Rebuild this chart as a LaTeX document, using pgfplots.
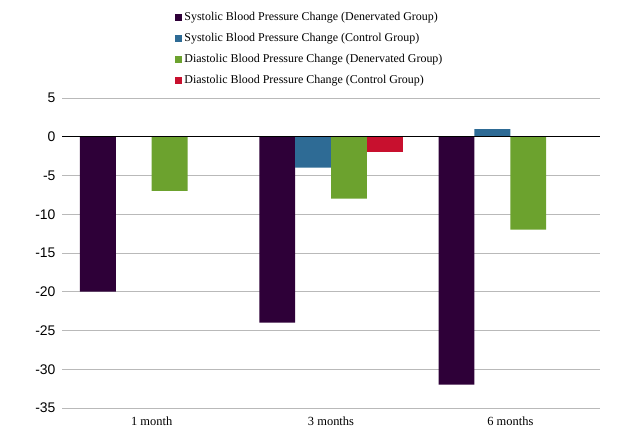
\documentclass[border=0pt]{standalone}
\usepackage{fontspec}
\setmainfont{Liberation Serif}
\newfontfamily\ticksans{Liberation Sans}
\usepackage{pgfplots}
\pgfplotsset{compat=1.18}

\definecolor{sysden}{HTML}{2E0038}
\definecolor{sysctl}{HTML}{2E6B95}
\definecolor{diaden}{HTML}{6CA22E}
\definecolor{diactl}{HTML}{C8102E}

\begin{document}
\begin{tikzpicture}
\path[use as bounding box] (0,0) rectangle (624bp,446bp);
\begin{axis}[
    at={(62bp,38bp)}, anchor=south west,
    scale only axis,
    width=538bp, height=310bp,
    ymin=-35, ymax=5,
    ytick={-35,-30,...,5},
    xmin=-0.5, xmax=2.5,
    xtick={0,1,2},
    xticklabels={1 month, 3 months, 6 months},
    axis line style={draw=none},
    tick style={draw=none},
    ymajorgrids=true,
    grid style={gray!55, line width=0.8pt},
    yticklabel style={font=\ticksans\fontsize{14}{14}\selectfont, xshift=-3bp},
    xticklabel style={font=\fontsize{12.5}{13}\selectfont, yshift=-1bp},
    /pgf/number format/assume math mode=true,
    ybar=0pt, bar width=0.2,
    legend style={at={(0.205,1.29)}, anchor=north west, draw=none,
        font=\fontsize{12}{12}\selectfont, row sep=7.3bp,
        legend cell align=left},
    legend image code/.code={\fill[#1] (0bp,-3.5bp) rectangle (7bp,3.5bp);},
]
\addplot[fill=sysden, draw=none, bar shift=-0.3] coordinates {(0,-20) (1,-24) (2,-32)};
\addlegendentry{Systolic Blood Pressure Change (Denervated Group)}
\addplot[fill=sysctl, draw=none, bar shift=-0.1] coordinates {(1,-4) (2,1)};
\addlegendentry{Systolic Blood Pressure Change (Control Group)}
\addplot[fill=diaden, draw=none, bar shift=0.1] coordinates {(0,-7) (1,-8) (2,-12)};
\addlegendentry{Diastolic Blood Pressure Change (Denervated Group)}
\addplot[fill=diactl, draw=none, bar shift=0.3] coordinates {(1,-2)};
\addlegendentry{Diastolic Blood Pressure Change (Control Group)}
\draw[black, line width=1.2pt] (axis cs:-0.5,0) -- (axis cs:2.5,0);
\end{axis}
\end{tikzpicture}
\end{document}
